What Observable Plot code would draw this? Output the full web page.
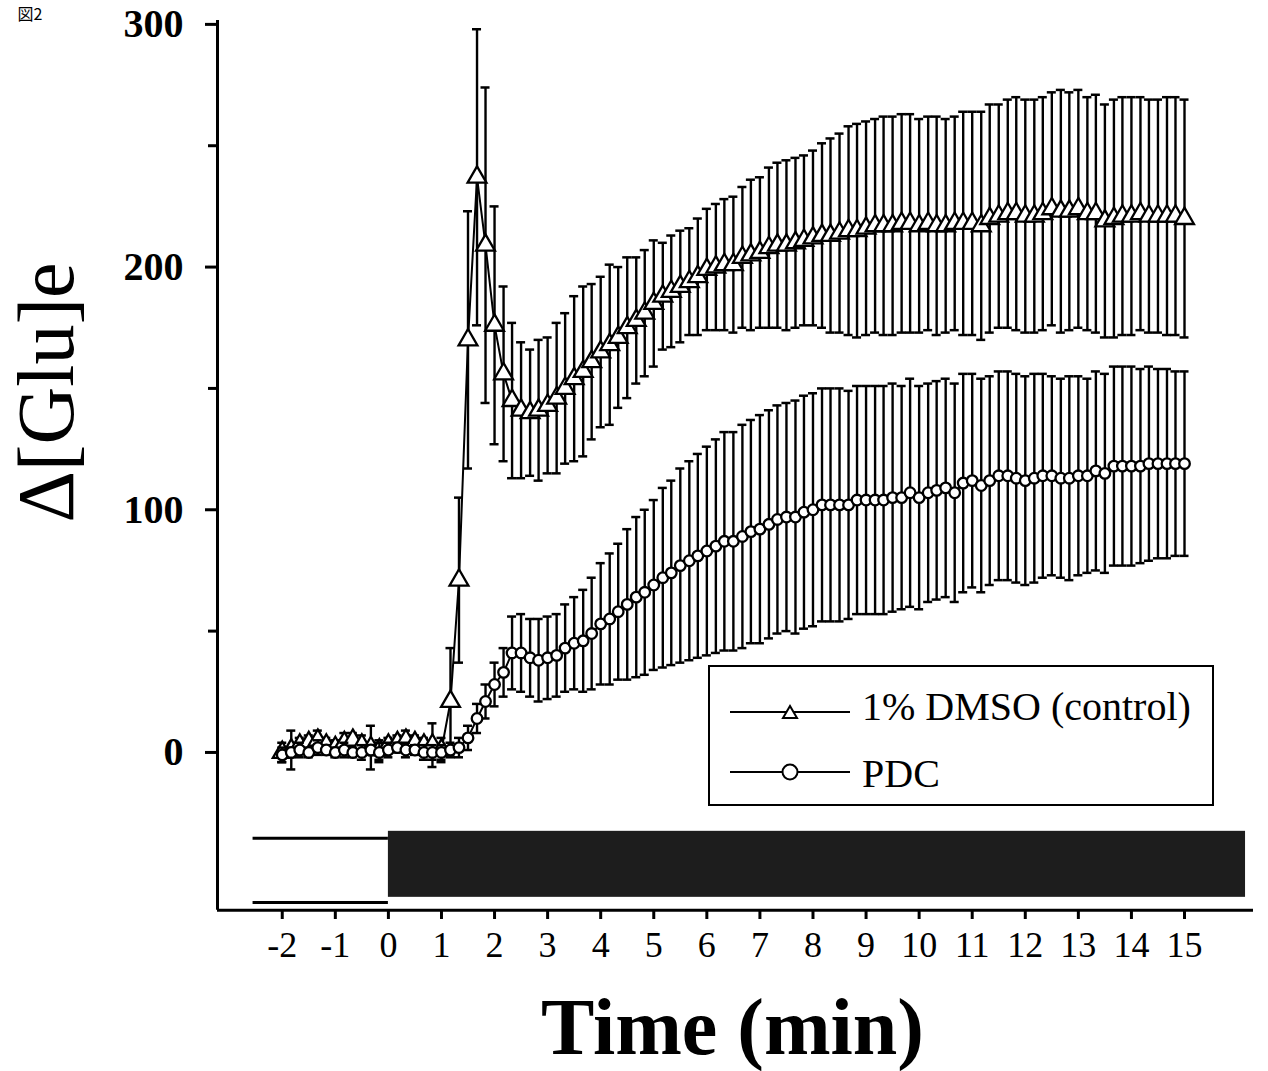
<!DOCTYPE html>
<html><head><meta charset="utf-8">
<script src="https://cdn.jsdelivr.net/npm/d3@7"></script>
<script src="https://cdn.jsdelivr.net/npm/@observablehq/plot@0.6"></script>
<style>
body{margin:0;background:#fff;}
#wrap{position:relative;width:1268px;height:1071px;overflow:hidden;background:#fff;}
#legend{position:absolute;left:708px;top:665px;width:502px;height:137px;border:2px solid #000;background:#fff;}
#legend text{font-family:"Liberation Serif","Times New Roman",serif;font-size:40px;fill:#000;}
</style></head><body><div id="wrap"></div>
<script>
const times = [-2,-1.83,-1.67,-1.5,-1.33,-1.17,-1,-0.83,-0.67,-0.5,-0.33,-0.17,0,0.17,0.33,0.5,0.67,0.83,1,1.17,1.33,1.5,1.67,1.83,2,2.17,2.33,2.5,2.67,2.83,3,3.17,3.33,3.5,3.67,3.83,4,4.17,4.33,4.5,4.67,4.83,5,5.17,5.33,5.5,5.67,5.83,6,6.17,6.33,6.5,6.67,6.83,7,7.17,7.33,7.5,7.67,7.83,8,8.17,8.33,8.5,8.67,8.83,9,9.17,9.33,9.5,9.67,9.83,10,10.17,10.33,10.5,10.67,10.83,11,11.17,11.33,11.5,11.67,11.83,12,12.17,12.33,12.5,12.67,12.83,13,13.17,13.33,13.5,13.67,13.83,14,14.17,14.33,14.5,14.67,14.83,15];

const dmsoMean = [0,1,3,4,5,3,2,4,5,3,2,1,3,4,5,4,3,3,1,
21,71,170,237,209,176,156,145,141,140,141,143,146,150,154,157,161,165,168,171,175,178,181,185,188,190,192,194,196,199,200,201,201,204,205,206,208,209,209,210,211,212,213,213,214,215,215,216,217,217,217,218,218,217,218,217,217,218,218,218,217,220,221,222,222,221,221,222,224,223,223,224,222,222,219,220,221,221,222,221,221,221,221,220];
const dmsoSem = [4,8,3,3,4,3,3,4,3,4,9,4,3,3,4,3,3,9,5,
22,34,53,61,65,49,36,32,28,26,29,28,31,31,34,35,32,31,33,29,29,26,26,26,22,23,23,22,24,25,26,27,28,29,31,31,33,34,35,35,35,36,38,40,41,43,44,44,44,45,45,45,45,44,44,45,44,44,46,46,47,47,46,47,48,48,48,48,48,50,49,49,48,49,48,49,49,49,48,48,48,49,49,49];

const pdcMean = [-1,0,1,0,2,1,0,1,0,0,1,0,1,2,1,1,0,0,0,
1,2,6,14,21,28,33,41,41,39,38,39,40,43,45,46,49,53,55,58,61,64,66,69,72,74,77,79,81,83,85,87,87,89,91,92,94,96,97,97,99,100,102,102,102,102,104,104,104,104,105,105,107,105,107,108,109,107,111,112,110,112,114,114,113,112,113,114,114,113,113,114,114,116,115,118,118,118,118,119,119,119,119,119];
const pdcSem = [3,2,3,2,3,2,2,3,2,3,2,4,3,2,3,2,3,3,3,
3,4,5,6,7,9,10,15,16,16,17,17,17,18,19,21,23,25,27,28,31,33,34,35,37,38,40,41,42,43,44,45,45,46,46,47,47,47,47,48,48,48,48,48,48,47,47,47,47,47,47,46,47,46,45,45,45,45,45,44,44,43,43,43,43,43,43,42,41,41,42,41,40,41,41,41,41,41,40,40,39,39,38,38];

const seriesNames = ["1% DMSO (control)", "PDC"];
const xTicks = [-2,-1,0,1,2,3,4,5,6,7,8,9,10,11,12,13,14,15];
const yTicks = [0,100,200,300];
const yMinorTicks = [50,150,250];
const periods = [{name:"buffer", start:-2.55, end:0}, {name:"drug", start:0, end:16.15}];
const xDomain = [-3.22, 16.3];
const yDomain = [-65, 301.6];

const serif = '"Liberation Serif","Times New Roman",serif';
const rows = (m, s) => times.map((t, i) => ({t, mean: m[i], sem: s[i]}));
const dmso = rows(dmsoMean, dmsoSem);
const pdc = rows(pdcMean, pdcSem);
const capHalf = 0.085;

function errorBars(data) {
  return [
    Plot.ruleX(data, {x: "t", y1: d => d.mean - d.sem, y2: d => d.mean + d.sem, stroke: "#000", strokeWidth: 2.4}),
    Plot.ruleY(data, {y: d => d.mean + d.sem, x1: d => d.t - capHalf, x2: d => d.t + capHalf, stroke: "#000", strokeWidth: 2.5}),
    Plot.ruleY(data, {y: d => d.mean - d.sem, x1: d => d.t - capHalf, x2: d => d.t + capHalf, stroke: "#000", strokeWidth: 2.5})
  ];
}

const buffer = periods.filter(p => p.name === "buffer");
const drug = periods.filter(p => p.name === "drug");

const chart = Plot.plot({
  width: 1268, height: 1071,
  marginLeft: 217, marginRight: 15, marginTop: 20, marginBottom: 161,
  style: {fontFamily: serif, background: "#fff", color: "#000", overflow: "hidden"},
  x: {domain: xDomain, range: [217, 1253]},
  y: {domain: yDomain, range: [909.7, 20]},
  marks: [
    Plot.rect(drug, {x1: "start", x2: "end", y1: -59.7, y2: -32.5, fill: "#1d1d1d"}),
    Plot.ruleY(buffer, {y: -35.4, x1: "start", x2: "end", stroke: "#000", strokeWidth: 3}),
    Plot.ruleY(buffer, {y: -61.8, x1: "start", x2: "end", stroke: "#000", strokeWidth: 3}),
    Plot.ruleX([xDomain[0]], {y1: yDomain[0], y2: yDomain[1], stroke: "#000", strokeWidth: 3}),
    Plot.ruleY([yDomain[0]], {x1: xDomain[0], x2: xDomain[1], stroke: "#000", strokeWidth: 3}),
    Plot.axisY({ticks: yTicks, tickSize: 12, tickPadding: 22, fontSize: 40, fontWeight: "bold", strokeWidth: 3, label: null, tickFormat: d => String(d)}),
    Plot.axisY({ticks: yMinorTicks, tickSize: 9, strokeWidth: 3, label: null, tickFormat: () => ""}),
    Plot.axisX({ticks: xTicks, tickSize: 9, tickPadding: 12, fontSize: 36, strokeWidth: 3, label: null, tickFormat: d => String(d)}),
    ...errorBars(dmso),
    Plot.line(dmso, {x: "t", y: "mean", stroke: "#000", strokeWidth: 2}),
    Plot.dot(dmso, {x: "t", y: "mean", symbol: "triangle", r: 7, fill: "#fff", stroke: "#000", strokeWidth: 2.3}),
    ...errorBars(pdc),
    Plot.line(pdc, {x: "t", y: "mean", stroke: "#000", strokeWidth: 2}),
    Plot.dot(pdc, {x: "t", y: "mean", r: 5.3, fill: "#fff", stroke: "#000", strokeWidth: 2.3}),
    Plot.text(["Δ[Glu]e"], {text: d => d, frameAnchor: "left", rotate: -90, dx: -145, dy: -73, fontSize: 80, lineAnchor: "bottom", textAnchor: "middle", fill: "#000"}),
    Plot.text(["Time (min)"], {text: d => d, frameAnchor: "bottom", dx: -3, dy: 143, fontSize: 80, fontWeight: "bold", lineAnchor: "bottom", textAnchor: "middle", fill: "#000"}),
    Plot.text(["図2"], {text: d => d, frameAnchor: "top-left", dx: -200, dy: -12, fontSize: 16, fontFamily: '"Noto Sans CJK JP"', lineAnchor: "top", textAnchor: "start", fill: "#000"})
  ]
});

const wrap = document.getElementById("wrap");
wrap.appendChild(chart);

const legend = document.createElement("div");
legend.id = "legend";
legend.innerHTML = `<svg width="502" height="137" style="display:block">
  <line x1="20" y1="45" x2="140" y2="45" stroke="#000" stroke-width="2"/>
  <polygon points="73,51 87,51 80,39" fill="#fff" stroke="#000" stroke-width="2"/>
  <text x="152" y="53">${seriesNames[0]}</text>
  <line x1="20" y1="105" x2="140" y2="105" stroke="#000" stroke-width="2"/>
  <circle cx="80" cy="105" r="7.5" fill="#fff" stroke="#000" stroke-width="2"/>
  <text x="152" y="120">${seriesNames[1]}</text>
</svg>`;
wrap.appendChild(legend);
</script></body></html>
